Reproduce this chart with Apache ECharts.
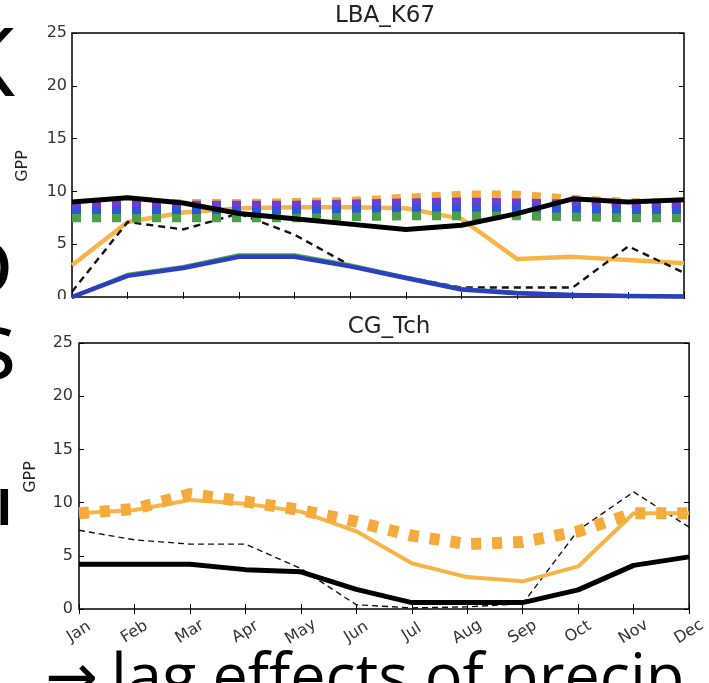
<!DOCTYPE html>
<html><head><meta charset="utf-8">
<script src="https://cdn.jsdelivr.net/npm/echarts@6/dist/echarts.min.js"></script>
<style>html,body{margin:0;padding:0;background:#fff}#c{width:709px;height:683px}</style>
</head><body><div id="c"></div>
<script>
const months = ['Jan','Feb','Mar','Apr','May','Jun','Jul','Aug','Sep','Oct','Nov','Dec'];
const yMin = 0, yMax = 25, yStep = 5;

// LBA_K67 (top panel)
const k67BlackSolid  = [9.0, 9.4, 8.9, 7.9, 7.4, 6.9, 6.4, 6.8, 7.9, 9.3, 9.0, 9.2];
const k67OrangeSolid = [3.0, 7.1, 8.0, 8.4, 8.5, 8.5, 8.4, 7.4, 3.6, 3.8, 3.5, 3.2];
const k67BlueSolid   = [0.0, 2.0, 2.75, 3.8, 3.8, 2.9, 1.8, 0.7, 0.35, 0.2, 0.1, 0.05];
const k67GreenSolid  = [0.0, 2.1, 2.85, 3.95, 3.95, 3.0, 1.85, 0.75, 0.4, 0.2, 0.1, 0.05];
const k67BlackDashed = [0.5, 7.1, 6.4, 7.9, 5.9, 3.0, 1.9, 0.9, 0.9, 0.9, 4.8, 2.3];
const k67OrangeDot   = [8.7, 8.8, 8.8, 8.8, 8.9, 9.0, 9.3, 9.6, 9.6, 9.2, 8.9, 8.8];
const k67GreenDot    = [7.5, 7.5, 7.5, 7.5, 7.5, 7.6, 7.7, 7.7, 7.7, 7.6, 7.5, 7.5];
const k67PurpleDot   = [8.7, 8.7, 8.7, 8.7, 8.7, 8.8, 8.9, 9.0, 8.9, 8.8, 8.8, 8.8];
const k67BlueDot     = [8.2, 8.2, 8.2, 8.2, 8.2, 8.3, 8.4, 8.4, 8.4, 8.3, 8.2, 8.2];

// CG_Tch (bottom panel)
const tchBlackSolid  = [4.2, 4.2, 4.2, 3.7, 3.5, 1.85, 0.6, 0.6, 0.6, 1.8, 4.1, 4.9];
const tchOrangeSolid = [9.0, 9.3, 10.25, 9.9, 9.15, 7.3, 4.3, 3.0, 2.6, 4.0, 9.0, 9.0];
const tchOrangeDot   = [9.0, 9.4, 10.8, 10.1, 9.3, 8.2, 6.9, 6.1, 6.3, 7.3, 9.0, 9.0];
const tchBlackDashed = [7.4, 6.5, 6.1, 6.1, 3.8, 0.4, 0.1, 0.2, 0.5, 7.4, 11.0, 7.7];

const FONT = '"DejaVu Sans", Roboto, sans-serif';
const chart = echarts.init(document.getElementById('c'), null, {renderer: 'canvas'});

function xAxes(gi, showLabels) {
  return [
    {gridIndex: gi, type: 'category', data: months, boundaryGap: false, position: 'bottom',
     axisLine: {show: false},
     axisTick: {show: true, inside: true, length: 5, lineStyle: {color: '#000', width: 1}},
     axisLabel: {show: showLabels, interval: 0, rotate: 32, align: 'center', verticalAlign: 'middle',
                 margin: 23, fontSize: 16, fontFamily: FONT, color: '#333'},
     splitLine: {show: false}},
    {gridIndex: gi, type: 'category', data: months, boundaryGap: false, position: 'top',
     axisLine: {show: false},
     axisTick: {show: true, inside: true, length: 5, lineStyle: {color: '#000', width: 1}},
     axisLabel: {show: false}, splitLine: {show: false}}
  ];
}
function yAxes(gi, margin) {
  return [
    {gridIndex: gi, type: 'value', min: yMin, max: yMax, interval: yStep, position: 'left',
     axisLine: {show: false},
     axisTick: {show: true, inside: true, length: 5, lineStyle: {color: '#000', width: 1}},
     axisLabel: {show: true, margin: margin, fontSize: 16, fontFamily: FONT, color: '#333'},
     splitLine: {show: false}},
    {gridIndex: gi, type: 'value', min: yMin, max: yMax, interval: yStep, position: 'right',
     axisLine: {show: false},
     axisTick: {show: true, inside: true, length: 5, lineStyle: {color: '#000', width: 1}},
     axisLabel: {show: false}, splitLine: {show: false}}
  ];
}
function line(xi, yi, data, color, width, type, z) {
  return {type: 'line', xAxisIndex: xi, yAxisIndex: yi, data: data, symbol: 'none',
          lineStyle: {color: color, width: width, type: type, cap: 'butt', join: 'round'},
          silent: true, animation: false, z: z};
}

const ORANGE = '#f7b548', ORANGE_DOT = '#f5aa3c', BLUE = '#2a3fc4', GREEN = '#4c9e4a',
      PURPLE = '#6b3fd2', BLUE_DOT = '#2f55d6';

const option = {
  backgroundColor: '#fff',
  animation: false,
  grid: [
    {left: 72, top: 33, width: 612, height: 264, show: true, borderColor: '#000', borderWidth: 1.5, backgroundColor: 'transparent'},
    {left: 79, top: 343, width: 613, height: 266, show: true, borderColor: '#000', borderWidth: 1.5, backgroundColor: 'transparent'}
  ],
  xAxis: [...xAxes(0, false), ...xAxes(1, true)],
  yAxis: [...yAxes(0, 5), ...yAxes(1, 6)],
  series: [
    // top panel
    line(0, 0, k67OrangeSolid, ORANGE, 4.5, 'solid', 2),
    line(0, 0, k67BlackDashed, '#111', 2.4, [7, 5], 2),
    line(0, 0, k67GreenSolid, GREEN, 4, 'solid', 2),
    line(0, 0, k67BlueSolid, BLUE, 4.5, 'solid', 2),
    line(0, 0, k67OrangeDot, ORANGE_DOT, 10, [9, 11], 3),
    line(0, 0, k67GreenDot, GREEN, 9, [9, 11], 3),
    line(0, 0, k67PurpleDot, PURPLE, 9, [9, 11], 3),
    line(0, 0, k67BlueDot, BLUE_DOT, 7, [9, 11], 3),
    line(0, 0, k67BlackSolid, '#000', 5, 'solid', 4),
    // bottom panel
    line(2, 2, tchBlackDashed, '#111', 1.4, [6, 4], 2),
    line(2, 2, tchOrangeSolid, ORANGE, 4, 'solid', 2),
    line(2, 2, tchOrangeDot, ORANGE_DOT, 12, [10, 11], 3),
    line(2, 2, tchBlackSolid, '#000', 5, 'solid', 4)
  ],
  graphic: [
    {type: 'rect', shape: {x: 20, y: 299, width: 689, height: 13}, style: {fill: '#fff'}, z: 100, silent: true},
    {type: 'text', x: 385, y: 16, z: 101, style: {text: 'LBA_K67', font: '23px "DejaVu Sans", Roboto, sans-serif', fill: '#222', align: 'center', verticalAlign: 'middle'}},
    {type: 'text', x: 389, y: 327, z: 101, style: {text: 'CG_Tch', font: '23px "DejaVu Sans", Roboto, sans-serif', fill: '#222', align: 'center', verticalAlign: 'middle'}},
    {type: 'text', x: 23, y: 166, rotation: Math.PI / 2, z: 101, style: {text: 'GPP', font: '16px "DejaVu Sans", Roboto, sans-serif', fill: '#222', align: 'center', verticalAlign: 'middle'}},
    {type: 'text', x: 31, y: 477, rotation: Math.PI / 2, z: 101, style: {text: 'GPP', font: '16px "DejaVu Sans", Roboto, sans-serif', fill: '#222', align: 'center', verticalAlign: 'middle'}},
    // fragments of the slide text at the left edge
    {type: 'text', x: -44, y: 69, z: 101, style: {text: 'K', font: '96px "Open Sans", sans-serif', fill: '#000', align: 'left', verticalAlign: 'middle'}},
    {type: 'text', x: -44, y: 266, z: 101, style: {text: 'o', font: '96px "Open Sans", sans-serif', fill: '#000', align: 'left', verticalAlign: 'middle'}},
    {type: 'text', x: -29, y: 352, z: 101, style: {text: 's', font: '96px "Open Sans", sans-serif', fill: '#000', align: 'left', verticalAlign: 'middle'}},
    {type: 'text', x: -4, y: 511, z: 101, style: {text: 'I', font: 'bold 50px "Open Sans", sans-serif', fill: '#000', align: 'left', verticalAlign: 'middle'}},
    // slide caption at the bottom
    {type: 'text', x: 45, y: 682, z: 101, style: {text: '→', font: '63px "DejaVu Sans", sans-serif', fill: '#000', align: 'left', verticalAlign: 'middle'}},
    {type: 'text', x: 111, y: 680, z: 101, style: {text: 'lag effects of precip', font: '63px "Open Sans", sans-serif', fill: '#000', align: 'left', verticalAlign: 'middle'}}
  ]
};
chart.setOption(option);
</script>
</body></html>
